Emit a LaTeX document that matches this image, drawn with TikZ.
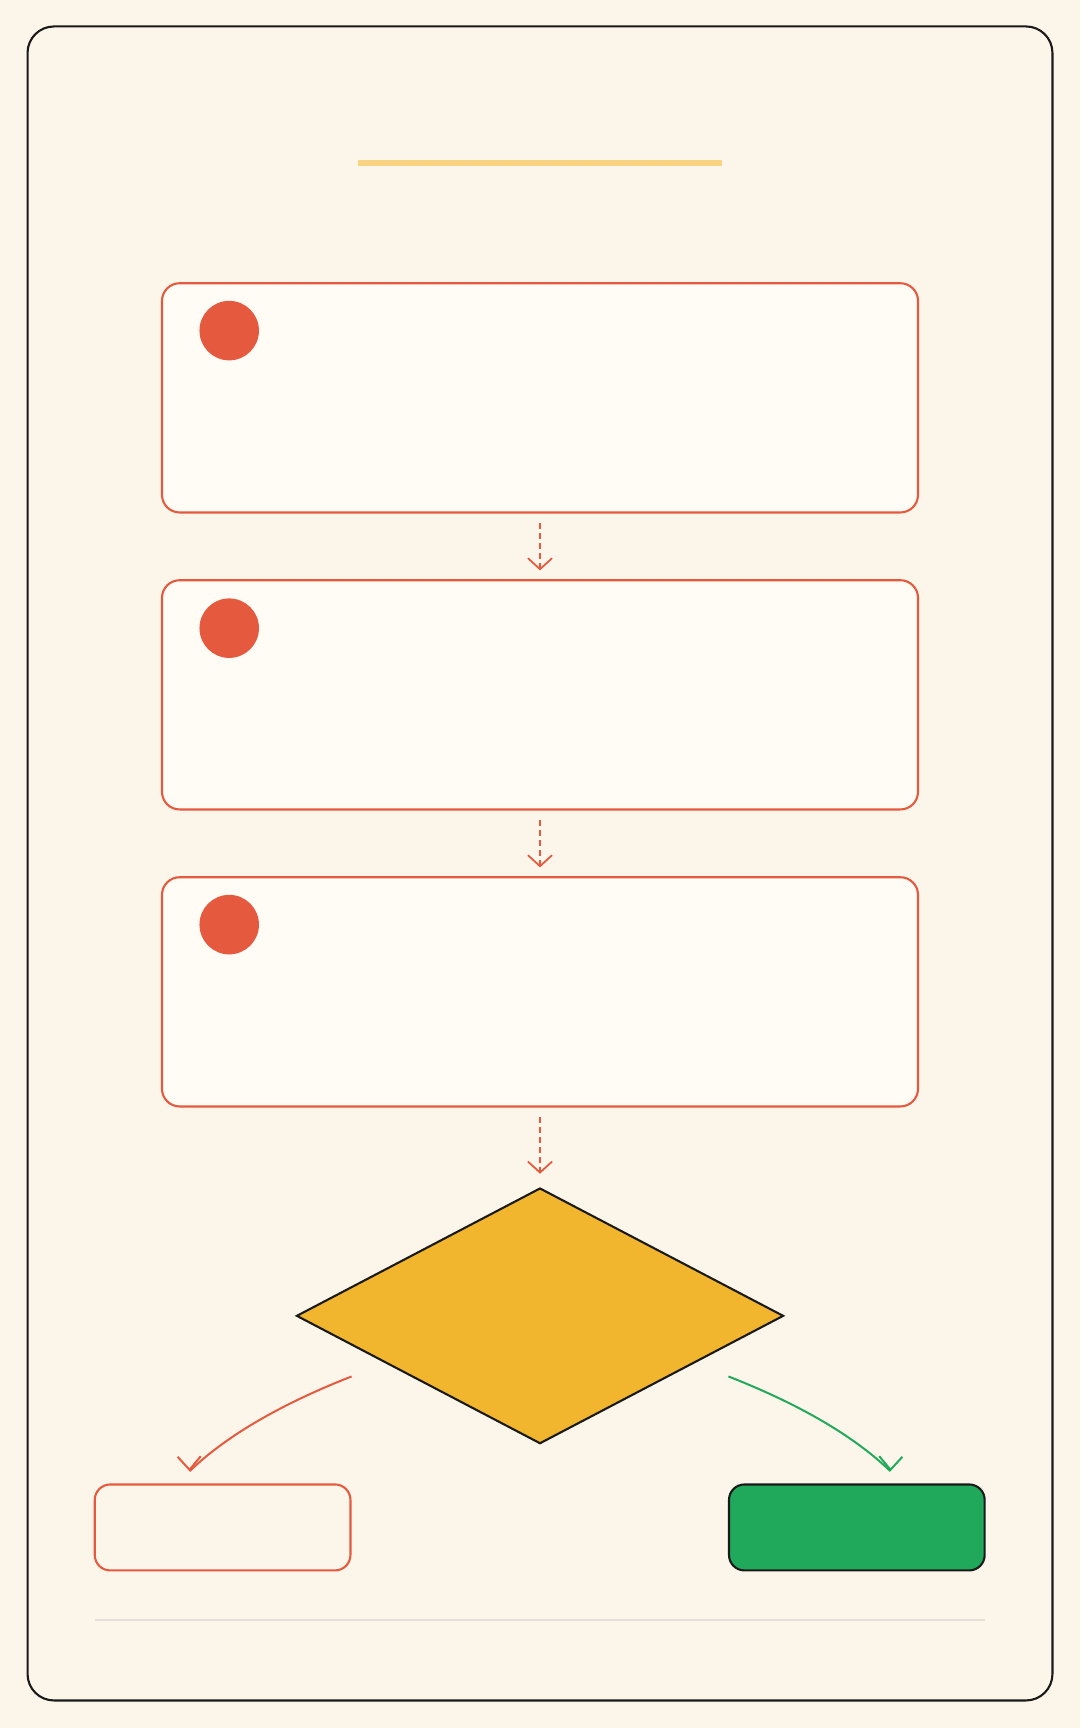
\documentclass[tikz,border=0pt]{standalone}
\usepackage{xcolor}
\usepackage{tikz}
\usetikzlibrary{arrows.meta, shapes.geometric}
\definecolor{paper}{HTML}{FCF5E9}
\definecolor{card}{HTML}{FFFCF5}
\definecolor{tomato}{HTML}{E5593F}
\definecolor{amber}{HTML}{F2B52E}
\definecolor{leaf}{HTML}{20A95B}
\definecolor{sand}{HTML}{F7D382}
\definecolor{ink}{HTML}{1A1A1A}
\definecolor{rule}{HTML}{E4DED6}
\tikzset{
  stepcard/.style={draw=tomato, fill=card, line width=1.9pt, rounded corners=16pt, minimum width=686pt, minimum height=208pt, inner sep=0pt},
  badge/.style={circle, fill=tomato, minimum size=54pt, inner sep=0pt},
  endcard/.style={line width=1.9pt, rounded corners=14pt, minimum width=232pt, minimum height=78pt, inner sep=0pt},
  flow/.style={tomato, line width=1.6pt, dash pattern=on 5pt off 4pt, -{Straight Barb[length=10pt,width=22pt]}},
  branch/.style={line width=1.8pt},
  branchtip/.style={line width=1.8pt, -{Straight Barb[length=12pt,width=21pt]}}
}

\begin{document}
\begin{tikzpicture}[x=1pt, y=-1pt]

\useasboundingbox (0,0) rectangle (980,1568);
\fill[paper] (0,0) rectangle (980,1568);
\draw[ink, line width=1.9pt, rounded corners=24pt] (25,24) rectangle (955,1543);
\fill[sand] (325,145) rectangle (655,151);

\begin{scope}[every node/.style={stepcard}]
\node (s1) at (490,361) {};
\node (s2) at (490,630.5) {};
\node (s3) at (490,900) {};
\end{scope}

\begin{scope}[every node/.style={badge}]
\node (b1) at (208,300) {};
\node (b2) at (208,570) {};
\node (b3) at (208,839) {};
\end{scope}

\node[diamond, draw=ink, fill=amber, line width=1.9pt, minimum width=442pt, minimum height=232pt, inner sep=0pt] (dec) at (490,1194) {};

\node[endcard, draw=tomato, fill=paper] (no) at (202,1386) {};
\node[endcard, draw=ink, fill=leaf] (yes) at (777.5,1386) {};

\draw[flow] ([yshift=-9pt]s1.south) -- ([yshift=8pt]s2.north);
\draw[flow] ([yshift=-9pt]s2.south) -- ([yshift=8pt]s3.north);
\draw[flow] ([yshift=-9pt]s3.south) -- ([yshift=12pt]dec.north);

\coordinate (noFrom) at (319,1249);
\coordinate (noTo) at (172,1335);
\coordinate (yesFrom) at (661,1249);
\coordinate (yesTo) at (808,1335);

\draw[branch, tomato] (noFrom) .. controls (245,1278) and (200,1308) .. (noTo);
\draw[branchtip, tomato] ([xshift=-0.05pt, yshift=2pt]noTo) -- (noTo);
\draw[branch, leaf] (yesFrom) .. controls (735,1278) and (780,1308) .. (yesTo);
\draw[branchtip, leaf] ([xshift=0.05pt, yshift=2pt]yesTo) -- (yesTo);

\draw[rule, line width=1pt] (86,1470) -- (894,1470);
\end{tikzpicture}
\end{document}
